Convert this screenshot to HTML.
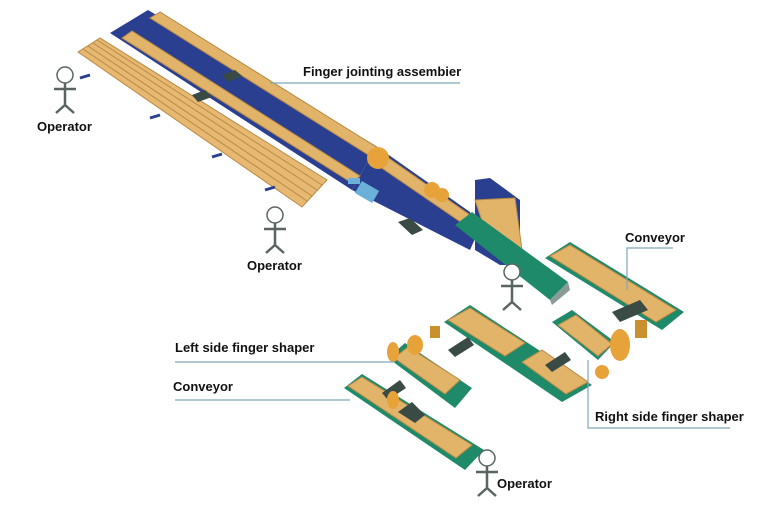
<!DOCTYPE html>
<html><head><meta charset="utf-8"><style>
body{margin:0;background:#fff;width:773px;height:529px;overflow:hidden}
svg{display:block}
text{font-family:"Liberation Sans",sans-serif;font-weight:bold;font-size:13px;fill:#111}
</style></head><body>
<svg width="773" height="529" viewBox="0 0 773 529">
<defs>
<g id="op" stroke="#5a6560" stroke-width="2.5" fill="none">
<circle cx="0" cy="0" r="8" fill="#fff" stroke-width="1.5"/>
<line x1="0" y1="8" x2="0" y2="30"/><line x1="-11" y1="14" x2="11" y2="14"/>
<line x1="0" y1="30" x2="-9" y2="38"/><line x1="0" y1="30" x2="9" y2="38"/>
</g>
</defs>
<!-- main blue board -->
<polygon points="110,33 148,10 376,146 352,190" fill="#2a3f8f"/>
<polygon points="352,190 376,146 470,212 478,232 470,250" fill="#2a3f8f"/>
<!-- lumber on blue -->
<polygon points="150,18 160,12 378,148 370,156" fill="#e2b46a" stroke="#b98a45"/>
<polygon points="122,38 132,31 360,176 352,183" fill="#e2b46a" stroke="#b98a45"/>
<polygon points="370,160 380,152 470,215 462,223" fill="#e2b46a" stroke="#b98a45"/>
<!-- left lumber pile -->
<polygon points="78,52 100,38 327,180 302,207" fill="#e6b872" stroke="#b98a45" stroke-width="1"/>
<g stroke="#b98a45" stroke-width="1">
<line x1="83" y1="49" x2="307" y2="201"/><line x1="88" y1="46" x2="312" y2="196"/><line x1="93" y1="43" x2="317" y2="190"/><line x1="97" y1="40" x2="322" y2="185"/>
</g>
<g stroke="#2a3f8f" stroke-width="3"><line x1="80" y1="78" x2="90" y2="75"/><line x1="150" y1="118" x2="160" y2="115"/><line x1="212" y1="157" x2="222" y2="154"/><line x1="265" y1="190" x2="275" y2="187"/></g>
<!-- blue box and green conveyor center -->
<polygon points="475,180 490,178 520,200 520,265 500,265 475,250" fill="#2a3f8f"/>
<polygon points="475,200 515,198 522,250 490,245" fill="#e2b46a" stroke="#b98a45"/>
<polygon points="455,225 472,212 568,282 550,300" fill="#1f8a6a"/>
<polygon points="550,300 568,282 570,290 552,305" fill="#8a9a95"/>
<!-- orange shapers top -->
<circle cx="378" cy="158" r="11" fill="#e8a23a"/><circle cx="432" cy="190" r="8" fill="#e8a23a"/><circle cx="442" cy="195" r="7" fill="#e8a23a"/>
<rect x="348" y="178" width="12" height="6" fill="#6ab0d8"/><rect x="357" y="185" width="20" height="14" fill="#6ab0d8" transform="rotate(30 367 192)"/>
<!-- arrows -->
<polygon points="222,75 235,70 242,76 228,82" fill="#3a4a45"/>
<polygon points="192,95 205,90 212,97 198,102" fill="#3a4a45"/>
<polygon points="398,222 410,218 423,230 412,235" fill="#3a4a45"/>
<!-- right conveyor -->
<polygon points="545,258 570,242 684,312 662,330" fill="#1f8a6a"/>
<polygon points="550,256 570,245 676,310 656,322" fill="#e2b46a" stroke="#b98a45"/>
<polygon points="612,312 640,300 648,310 620,322" fill="#3a4a45"/>
<!-- middle conveyor -->
<polygon points="444,322 470,305 592,385 562,402" fill="#1f8a6a"/>
<polygon points="448,320 470,308 525,343 505,356" fill="#e2b46a" stroke="#b98a45"/>
<polygon points="522,362 542,350 588,382 566,394" fill="#e2b46a" stroke="#b98a45"/>
<polygon points="448,350 468,337 474,345 455,357" fill="#3a4a45"/>
<polygon points="545,365 565,352 571,360 552,372" fill="#3a4a45"/>
<!-- right shaper conveyor -->
<polygon points="552,322 572,310 615,342 598,360" fill="#1f8a6a"/>
<polygon points="558,325 576,315 612,344 598,356" fill="#e2b46a" stroke="#b98a45"/>
<ellipse cx="620" cy="345" rx="10" ry="16" fill="#e8a23a"/><circle cx="602" cy="372" r="7" fill="#e8a23a"/><rect x="635" y="320" width="12" height="18" fill="#c8902e"/>
<!-- left lower conveyors -->
<polygon points="388,358 405,343 472,388 455,408" fill="#1f8a6a"/>
<polygon points="394,358 408,347 460,380 445,394" fill="#e2b46a" stroke="#b98a45"/>
<polygon points="344,388 362,374 484,450 465,470" fill="#1f8a6a"/>
<polygon points="348,386 362,377 472,445 456,458" fill="#e2b46a" stroke="#b98a45"/>
<polygon points="382,393 400,380 406,388 388,400" fill="#3a4a45"/>
<polygon points="398,412 412,402 425,415 415,423" fill="#3a4a45"/>
<ellipse cx="393" cy="352" rx="6" ry="10" fill="#e8a23a"/><ellipse cx="415" cy="345" rx="8" ry="10" fill="#e8a23a"/><ellipse cx="393" cy="400" rx="6" ry="9" fill="#e8a23a"/><rect x="430" y="326" width="10" height="12" fill="#c8902e"/>
<!-- operators -->
<use href="#op" x="65" y="75"/><use href="#op" x="275" y="215"/><use href="#op" x="512" y="272"/><use href="#op" x="487" y="458"/>
<!-- leader lines -->
<g stroke="#7fa8b8" stroke-width="1.2" fill="none">
<polyline points="270,83 460,83"/>
<polyline points="673,248 627,248 627,290"/>
<polyline points="175,362 395,362"/>
<polyline points="175,400 350,400"/>
<polyline points="588,360 588,428 730,428"/>
</g>
<text x="303" y="76">Finger jointing assembier</text>
<text x="37" y="131">Operator</text>
<text x="247" y="270">Operator</text>
<text x="625" y="242">Conveyor</text>
<text x="175" y="352">Left side finger shaper</text>
<text x="173" y="391">Conveyor</text>
<text x="595" y="421">Right side finger shaper</text>
<text x="497" y="488">Operator</text>
</svg>
</body></html>
